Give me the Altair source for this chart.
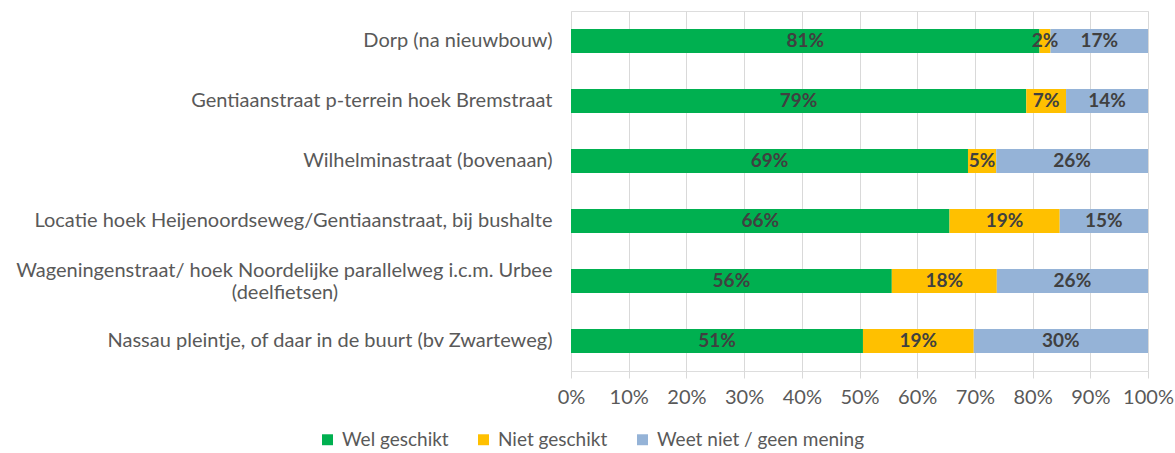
import altair as alt
import pandas as pd

categories = [
    "Dorp (na nieuwbouw)",
    "Gentiaanstraat p-terrein hoek Bremstraat",
    "Wilhelminastraat (bovenaan)",
    "Locatie hoek Heijenoordseweg/Gentiaanstraat, bij bushalte",
    "Wageningenstraat/ hoek Noordelijke parallelweg i.c.m. Urbee (deelfietsen)",
    "Nassau pleintje, of daar in de buurt (bv Zwarteweg)",
]
series = ["Wel geschikt", "Niet geschikt", "Weet niet / geen mening"]
wel = [81.2, 78.9, 68.8, 65.6, 55.6, 50.6]
niet = [1.9, 6.9, 4.9, 19.1, 18.2, 19.2]
weet = [16.9, 14.2, 26.3, 15.3, 26.2, 30.2]
colors = ["#00B050", "#FFC000", "#95B3D7"]

rows = []
for i, c in enumerate(categories):
    for j, (s, v) in enumerate(zip(series, [wel[i], niet[i], weet[i]])):
        rows.append({"cat": c, "series": s, "order": j, "value": v})
df = pd.DataFrame(rows)

wrap_line1 = "Wageningenstraat/ hoek Noordelijke parallelweg i.c.m. Urbee"
wrap_line2 = "(deelfietsen)"
df_wrap = pd.DataFrame([{"cat": categories[4], "line2": wrap_line2}])

FONT = "Lato"
FS = 20
GRAY = "#595959"
GRID = "#D9D9D9"

wrap_expr = (
    "datum.value == '" + categories[4] + "' ? '" + wrap_line1 + "' : datum.value"
)

base = alt.Chart(df).transform_stack(
    stack="value", groupby=["cat"], as_=["x0", "x1"],
    sort=[alt.SortField("order", order="ascending")],
).transform_calculate(
    x0p="datum.x0 / 100", x1p="datum.x1 / 100",
    mid="(datum.x0 + datum.x1) / 200",
    lbl="format(datum.value, '.0f') + '%'",
)

y_enc = alt.Y(
    "cat:N", sort=categories, title=None,
    scale=alt.Scale(paddingInner=0.6, paddingOuter=0.3),
    axis=alt.Axis(
        domain=False, ticks=False, labelPadding=19, labelFont=FONT,
        labelFontSize=FS, labelColor=GRAY, labelLimit=700,
        labelExpr=wrap_expr,
        labelOffset={
            "condition": {"test": "datum.value == '" + categories[4] + "'", "value": -10},
            "value": 0,
        },
    ),
)

bars = base.mark_bar().encode(
    x=alt.X(
        "x0p:Q", title=None,
        scale=alt.Scale(domain=[0, 1], nice=False),
        axis=alt.Axis(
            format=".0%", values=[i / 10 for i in range(11)], grid=True,
            gridColor=GRID, domain=False, tickColor=GRID, tickSize=7,
            labelPadding=9, labelFont=FONT, labelFontSize=FS,
            labelColor=GRAY, labelOverlap=False, labelFlush=False,
        ),
    ),
    x2="x1p:Q",
    y=y_enc,
    color=alt.Color(
        "series:N", sort=series,
        scale=alt.Scale(domain=series, range=colors),
        legend=alt.Legend(
            title=None, orient="none", direction="horizontal",
            legendX=-253, legendY=419, labelFont=FONT, labelFontSize=19,
            labelColor=GRAY, symbolType="square", symbolSize=120,
            symbolStrokeWidth=0, columnPadding=25, labelOffset=5,
            labelLimit=400,
        ),
    ),
)

texts = base.mark_text(
    font=FONT, fontSize=19, fontWeight="bold", color="#404040"
).encode(
    x="mid:Q",
    y=alt.Y("cat:N", sort=categories),
    text="lbl:N",
)

wrap_text = alt.Chart(df_wrap).mark_text(
    font=FONT, fontSize=FS, color=GRAY, align="center", dy=12
).encode(
    x=alt.value(-286),
    y=alt.Y("cat:N", sort=categories),
    text="line2:N",
)

chart = alt.layer(bars, texts, wrap_text).properties(
    width=577, height=360,
    autosize=alt.AutoSizeParams(type="none"),
    padding={"left": 571, "top": 11, "right": 27, "bottom": 82},
).configure_view(stroke=None).configure(background="white")

chart.save("out.html", embed_options={"renderer": "svg", "actions": False})
